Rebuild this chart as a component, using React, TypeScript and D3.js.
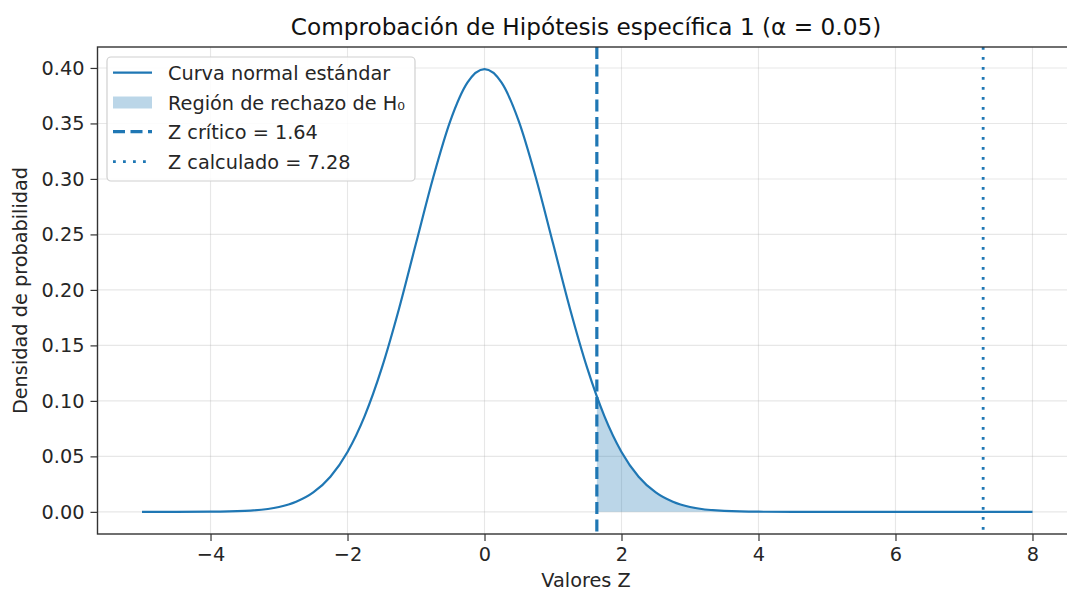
import React, { useRef, useEffect } from "react";
import * as d3 from "d3";

// valores (z, densidad)
const zValues = [
  -5, -4.5, -4, -3.5, -3, -2.75, -2.5, -2.25, -2, -1.75, -1.5, -1.25, -1,
  -0.75, -0.5, -0.25, 0, 0.25, 0.5, 0.75, 1, 1.25, 1.5, 1.75, 2, 2.25, 2.5,
  2.75, 3, 3.5, 4, 4.5, 5, 6, 7, 8,
];
const densities = [
  0.0, 0.00002, 0.00013, 0.00087, 0.0044, 0.0091, 0.0175, 0.0317, 0.054,
  0.0863, 0.1295, 0.1826, 0.242, 0.3011, 0.3521, 0.3867, 0.3989, 0.3867,
  0.3521, 0.3011, 0.242, 0.1826, 0.1295, 0.0863, 0.054, 0.0317, 0.0175,
  0.0091, 0.0044, 0.00087, 0.00013, 0.00002, 0.0, 0.0, 0.0, 0.0,
];
const zCritical = 1.64;
const densityAtCritical = 0.104;
const zCalculated = 7.28;

const xTicks = [-4, -2, 0, 2, 4, 6, 8];
const yTicks = [0, 0.05, 0.1, 0.15, 0.2, 0.25, 0.3, 0.35, 0.4];

const legendLabels = [
  "Curva normal estándar",
  "Región de rechazo de H₀",
  "Z crítico = 1.64",
  "Z calculado = 7.28",
];

const BLUE = "#1f77b4";
const FONT = "DejaVu Sans, sans-serif";
const FS = "19.3px";

const left = 97.5;
const right = 1077;
const top = 47;
const bottom = 534;

function App() {
  const svgRef = useRef<SVGSVGElement>(null);

  useEffect(() => {
    const svg = d3.select(svgRef.current);
    svg.selectAll("*").remove();

    const x = d3.scaleLinear().domain([-5.65, 8.65]).range([left, right]);
    const y = d3.scaleLinear().domain([-0.01995, 0.41888]).range([bottom, top]);

    const pts = zValues.map((z, i) => [z, densities[i]] as [number, number]);
    const rejection: [number, number][] = [
      [zCritical, densityAtCritical],
      ...pts.filter((p) => p[0] > zCritical),
    ];

    // grid
    const grid = svg.append("g");
    grid
      .selectAll(".gx")
      .data(xTicks)
      .join("line")
      .attr("x1", (d) => x(d))
      .attr("x2", (d) => x(d))
      .attr("y1", top)
      .attr("y2", bottom)
      .attr("stroke", "#b0b0b0")
      .attr("stroke-opacity", 0.3)
      .attr("stroke-width", 1.1);
    grid
      .selectAll(".gy")
      .data(yTicks)
      .join("line")
      .attr("x1", left)
      .attr("x2", right)
      .attr("y1", (d) => y(d))
      .attr("y2", (d) => y(d))
      .attr("stroke", "#b0b0b0")
      .attr("stroke-opacity", 0.3)
      .attr("stroke-width", 1.1);

    // region de rechazo
    const area = d3
      .area<[number, number]>()
      .x((d) => x(d[0]))
      .y0(y(0))
      .y1((d) => y(d[1]))
      .curve(d3.curveMonotoneX);
    svg
      .append("path")
      .datum(rejection)
      .attr("d", area)
      .attr("fill", BLUE)
      .attr("fill-opacity", 0.3);

    // curva
    const line = d3
      .line<[number, number]>()
      .x((d) => x(d[0]))
      .y((d) => y(d[1]))
      .curve(d3.curveMonotoneX);
    svg
      .append("path")
      .datum(pts)
      .attr("d", line)
      .attr("fill", "none")
      .attr("stroke", BLUE)
      .attr("stroke-width", 2.2);

    // lineas verticales
    svg
      .append("line")
      .attr("x1", x(zCritical))
      .attr("x2", x(zCritical))
      .attr("y1", top)
      .attr("y2", bottom)
      .attr("stroke", BLUE)
      .attr("stroke-width", 3.2)
      .attr("stroke-dasharray", "12 5.5");
    svg
      .append("line")
      .attr("x1", x(zCalculated))
      .attr("x2", x(zCalculated))
      .attr("y1", top)
      .attr("y2", bottom)
      .attr("stroke", BLUE)
      .attr("stroke-width", 2.8)
      .attr("stroke-dasharray", "2.8 7.2");

    // ejes
    const xAxis = svg
      .append("g")
      .attr("transform", `translate(0,${bottom})`)
      .call(d3.axisBottom(x).tickValues(xTicks).tickSizeOuter(0).tickSize(7).tickPadding(6));
    const yAxis = svg
      .append("g")
      .attr("transform", `translate(${left},0)`)
      .call(
        d3
          .axisLeft(y)
          .tickValues(yTicks)
          .tickFormat(d3.format(".2f"))
          .tickSizeOuter(0)
          .tickSize(7)
          .tickPadding(6)
      );
    [xAxis, yAxis].forEach((g) => {
      g.select(".domain").remove();
      g.selectAll("line").attr("stroke", "#333").attr("stroke-width", 1.2);
      g.selectAll("text")
        .attr("fill", "#262626")
        .style("font-family", FONT)
        .style("font-size", FS);
    });

    // marco
    svg
      .append("rect")
      .attr("x", left)
      .attr("y", top)
      .attr("width", right - left)
      .attr("height", bottom - top)
      .attr("fill", "none")
      .attr("stroke", "#333")
      .attr("stroke-width", 1.4);

    // textos
    svg
      .append("text")
      .attr("x", 586)
      .attr("y", 35)
      .attr("text-anchor", "middle")
      .style("font-family", FONT)
      .style("font-size", "23.2px")
      .attr("fill", "#111")
      .text("Comprobación de Hipótesis específica 1 (α = 0.05)");
    svg
      .append("text")
      .attr("x", 586)
      .attr("y", 587)
      .attr("text-anchor", "middle")
      .style("font-family", FONT)
      .style("font-size", FS)
      .attr("fill", "#262626")
      .text("Valores Z");
    svg
      .append("text")
      .attr("transform", `translate(27,${(top + bottom) / 2}) rotate(-90)`)
      .attr("text-anchor", "middle")
      .style("font-family", FONT)
      .style("font-size", FS)
      .attr("fill", "#262626")
      .text("Densidad de probabilidad");

    // leyenda
    const lg = svg.append("g");
    lg.append("rect")
      .attr("x", 107)
      .attr("y", 57)
      .attr("width", 308)
      .attr("height", 124)
      .attr("rx", 4)
      .attr("fill", "white")
      .attr("fill-opacity", 0.85)
      .attr("stroke", "#d0d0d0")
      .attr("stroke-width", 1.2);
    const rowY = [72.7, 102.5, 131.7, 161.7];
    legendLabels.forEach((label, i) => {
      const yy = rowY[i];
      if (i === 1) {
        lg.append("rect")
          .attr("x", 113)
          .attr("y", yy - 6)
          .attr("width", 39)
          .attr("height", 12)
          .attr("fill", BLUE)
          .attr("fill-opacity", 0.3);
      } else {
        lg.append("line")
          .attr("x1", 113)
          .attr("x2", 152)
          .attr("y1", yy)
          .attr("y2", yy)
          .attr("stroke", BLUE)
          .attr("stroke-width", i === 0 ? 2.2 : i === 2 ? 3.2 : 2.8)
          .attr("stroke-dasharray", i === 0 ? null : i === 2 ? "12 5.5" : "2.8 7.2");
      }
      lg.append("text")
        .attr("x", 168)
        .attr("y", yy + 7)
        .style("font-family", FONT)
        .style("font-size", FS)
        .attr("fill", "#262626")
        .text(label);
    });
  }, []);

  return (
    <div style={{ position: "absolute", left: 0, top: 0 }}>
      <svg ref={svgRef} width={1067} height={593} style={{ display: "block", background: "white" }} />
    </div>
  );
}

export default App;
